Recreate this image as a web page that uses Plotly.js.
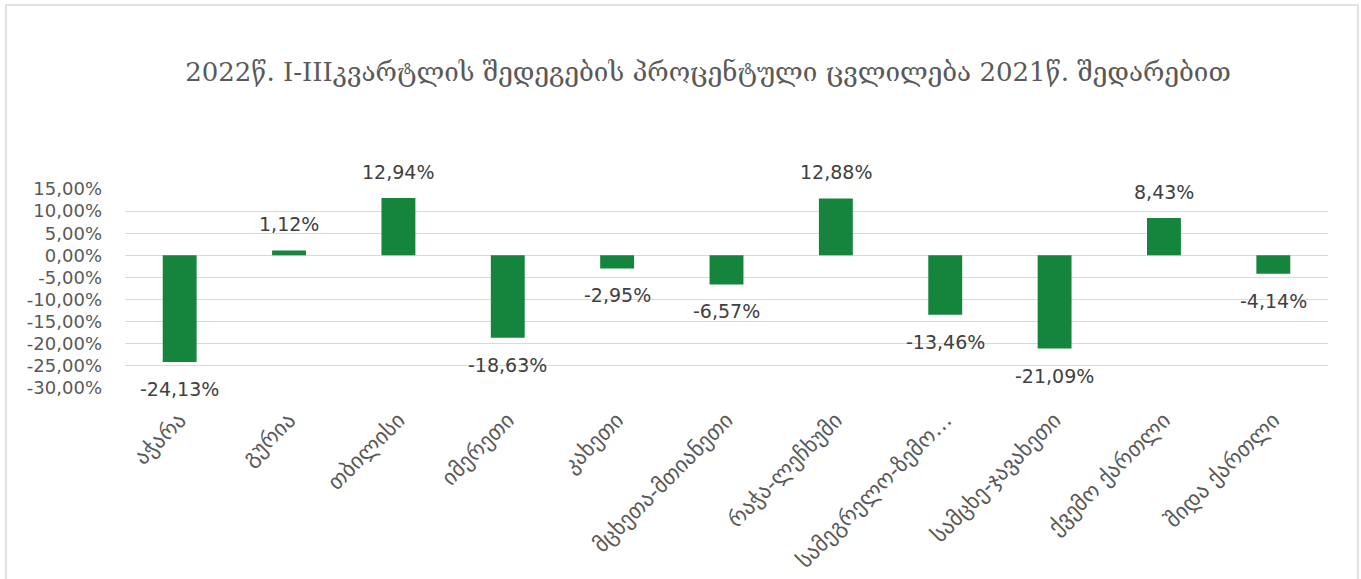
<!DOCTYPE html>
<html>
<head>
<meta charset="utf-8">
<script src="https://cdn.plot.ly/plotly-3.0.1.min.js"></script>
<style>
  html, body { margin: 0; padding: 0; background: #fff; }
  #chart { width: 1361px; height: 579px; }
</style>
</head>
<body>
<div id="chart"></div>
<script>
// Regions (x axis categories)
let regions = [
    'აჭარა',
    'გურია',
    'თბილისი',
    'იმერეთი',
    'კახეთი',
    'მცხეთა-მთიანეთი',
    'რაჭა-ლეჩხუმი',
    'სამეგრელო-ზემო…',
    'სამცხე-ჯავახეთი',
    'ქვემო ქართლი',
    'შიდა ქართლი'
    ]

// Percent change 2022 vs 2021
let changes = [-24.13, 1.12, 12.94, -18.63, -2.95, -6.57, 12.88, -13.46, -21.09, 8.43, -4.14];

// Y axis ticks
let yTicks = [15, 10, 5, 0, -5, -10, -15, -20, -25, -30];

let titleText = '2022წ. I-IIIკვარტლის შედეგების პროცენტული ცვლილება 2021წ. შედარებით';

// Format like Excel with comma decimals
function pct(v) {
    return v.toFixed(2).replace('.', ',') + '%';
}

// Plot area in pixels, used to place the outer border
let W = 1361, H = 579;
let margin = { l: 125, r: 33, t: 189, b: 191 };
let plotW = W - margin.l - margin.r;
let plotH = H - margin.t - margin.b;

function px(x) { return (x - margin.l) / plotW; }
function py(y) { return (H - margin.b - y) / plotH; }

let numFont = 'DejaVu Sans, sans-serif';

let trace = {
    x: regions,
    y: changes,
    type: 'bar',
    marker: { color: '#15843c' },
    hoverinfo: 'none'
};

// Data labels above positive bars, below negative ones
let labels = changes.map((v, i) => ({
    x: regions[i],
    y: v,
    xref: 'x',
    yref: 'y',
    text: pct(v),
    showarrow: false,
    yanchor: 'middle',
    yshift: v >= 0 ? 26 : -27,
    font: { family: numFont, size: 19, color: '#404040' }
}));

let layout = {
    width: W,
    height: H,
    autosize: false,
    margin: margin,
    showlegend: false,
    bargap: 0.69,
    paper_bgcolor: 'white',
    plot_bgcolor: 'white',
    title: {
        text: titleText,
        x: 708 / W,
        xanchor: 'center',
        y: 1 - 72 / H,
        yanchor: 'middle',
        font: { family: 'DejaVu Serif, serif', size: 26, color: '#595959' }
    },
    xaxis: {
        type: 'category',
        tickangle: -45,
        showgrid: false,
        showline: false,
        ticks: '',
        ticklabelstandoff: 14,
        tickfont: { family: 'DejaVu Sans, sans-serif', size: 22, color: '#595959' },
        fixedrange: true
    },
    yaxis: {
        range: [-30, 15],
        tickvals: yTicks,
        ticktext: yTicks.map(pct),
        showgrid: true,
        gridcolor: '#d9d9d9',
        gridwidth: 1,
        zeroline: false,
        showline: false,
        ticks: '',
        ticklabelstandoff: 22,
        tickfont: { family: numFont, size: 18, color: '#595959' },
        fixedrange: true
    },
    annotations: labels,
    shapes: [{
        type: 'rect',
        xref: 'paper',
        yref: 'paper',
        x0: px(6),
        x1: px(1358),
        y0: py(600),
        y1: py(5),
        line: { color: '#d9d9d9', width: 1.5 },
        fillcolor: 'rgba(0,0,0,0)'
    }]
};

Plotly.newPlot('chart', [trace], layout, { displayModeBar: false, staticPlot: true });
</script>
</body>
</html>
